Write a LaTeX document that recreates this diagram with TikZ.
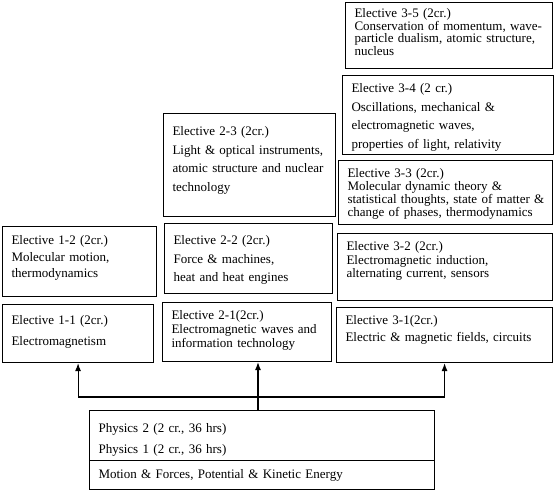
\documentclass[tikz,border=0pt]{standalone}
\usepackage{fontspec}
\setmainfont{Liberation Serif}
\usepackage{tikz}
\usetikzlibrary{arrows.meta,positioning,calc}

\begin{document}
\begin{tikzpicture}[
  x=1pt, y=-1pt,
  elective/.style={draw, rectangle, anchor=north west, align=left, line width=1.1pt,
    inner xsep=9pt, inner ysep=0pt, font=\fontsize{13}{#1}\selectfont},
  ptr/.style={{Latex[length=8pt,width=6pt]}-{Latex[length=8pt,width=6pt]}, line width=1.1pt},
  up/.style={-{Latex[length=8pt,width=6pt]}, line width=1.1pt}
]
\useasboundingbox (0,0) rectangle (555,490);
% level 1
\node[elective=21, text width=133pt, minimum height=58pt, text depth=27pt] (e11) at (2,304) {Elective 1-1 (2cr.)\\Electromagnetism};
\node[elective=16.5, text width=136pt, minimum height=70pt, text depth=43pt] (e12) at (2,226) {Elective 1-2 (2cr.)\\Molecular motion,\\thermodynamics};
% level 2
\node[elective=14, text width=151pt, minimum height=59pt, text depth=34pt] (e21) at (162,302) {Elective 2-1(2cr.)\\Electromagnetic waves and\\information technology};
\node[elective=18.5, text width=150pt, minimum height=70pt, text depth=37pt] (e22) at (164,223) {Elective 2-2 (2cr.)\\Force \& machines,\\heat and heat engines};
\node[elective=18.5, text width=154pt, minimum height=103pt, text depth=68pt] (e23) at (163,113) {Elective 2-3 (2cr.)\\Light \& optical instruments,\\atomic structure and nuclear\\technology};
% level 3
\node[elective=17, text width=198pt, minimum height=55pt, text depth=30pt] (e31) at (336,307) {Elective 3-1(2cr.)\\Electric \& magnetic fields, circuits};
\node[elective=13.5, text width=197pt, minimum height=67pt, text depth=42pt] (e32) at (337,233) {Elective 3-2 (2cr.)\\Electromagnetic induction,\\alternating current, sensors};
\node[elective=11.7, text width=196pt, minimum height=64pt, text depth=39pt] (e33) at (338,160) {Elective 3-3 (2cr.)\\Molecular dynamic theory \&\\\mbox{statistical thoughts, state of matter \&}\\change of phases, thermodynamics};
\node[elective=18.5, text width=193pt, minimum height=79pt, text depth=54pt] (e34) at (342,75) {Elective 3-4 (2 cr.)\\Oscillations, mechanical \&\\electromagnetic waves,\\properties of light, relativity};
\node[elective=11, text width=189pt, minimum height=66pt, text depth=45pt] (e35) at (345,2) {Elective 3-5 (2cr.)\\\mbox{Conservation of momentum, wave-}\\\mbox{particle dualism, atomic structure,}\\nucleus};
% compulsory courses
\node[elective=21, text width=327pt, minimum height=50pt, text depth=15pt] (phys) at (89,410) {Physics 2 (2 cr., 36 hrs)\\Physics 1 (2 cr., 36 hrs)};
\node[elective=21, text width=327pt, minimum height=29pt] (motion) at (89,460) {Motion \& Forces, Potential \& Kinetic Energy};
% arrows
\coordinate (fork) at (258,397);
\draw[ptr] (e11.south) |- (fork) -| (e31.south);
\draw[up] (fork |- phys.north) -- (fork |- e21.south);
\end{tikzpicture}
\end{document}
